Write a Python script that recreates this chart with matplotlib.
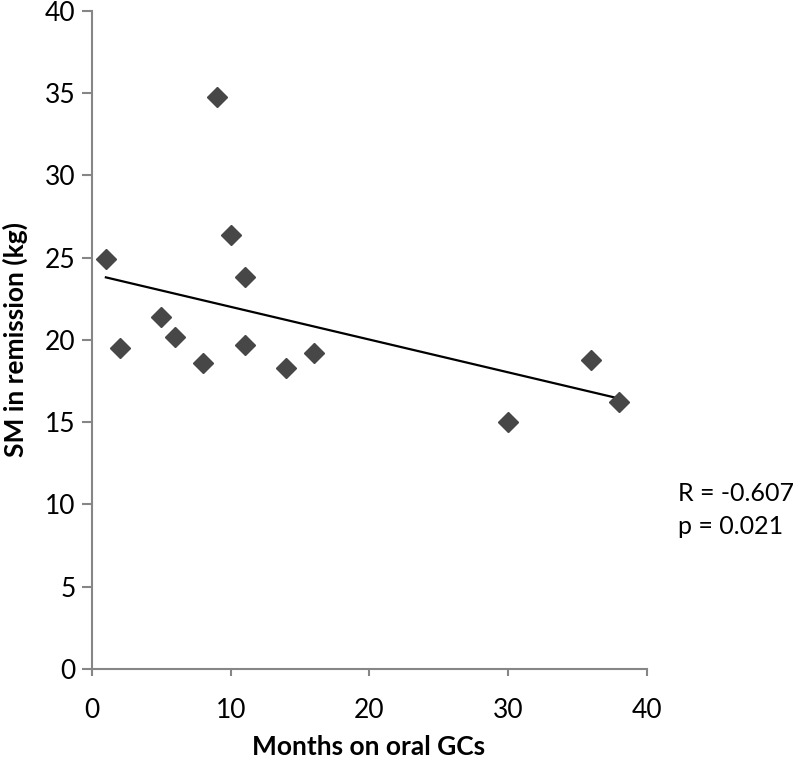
import numpy as np
import matplotlib
matplotlib.use("Agg")
import matplotlib.pyplot as plt

plt.rcParams['font.family'] = ['Lato', 'DejaVu Sans']

months = [1, 2, 5, 6, 8, 9, 10, 11, 11, 14, 16, 30, 36, 38]
sm_kg = [24.9, 19.5, 21.4, 20.2, 18.6, 34.75, 26.4, 23.85, 19.7, 18.3, 19.2, 15.0, 18.8, 16.25]
stats_text = "R = -0.607\np = 0.021"

fig = plt.figure(figsize=(8, 7.59), dpi=100)
ax = fig.add_axes([0.115, 0.1186, 0.6934, 0.867])

ax.plot(months, sm_kg, linestyle='none', marker='D', markersize=10.5,
        color='#474747', zorder=3)

slope, intercept = np.polyfit(months, sm_kg, 1)
xs = np.array([min(months), max(months)])
ax.plot(xs, slope * xs + intercept, color='black', linewidth=1.6, zorder=2)

ax.set_xlim(0, 40)
ax.set_ylim(0, 40)
ax.set_xticks([0, 10, 20, 30, 40])
ax.set_yticks(range(0, 41, 5))

for s in ['top', 'right']:
    ax.spines[s].set_visible(False)
for s in ['left', 'bottom']:
    ax.spines[s].set_color('#868686')
    ax.spines[s].set_linewidth(1.5)
ax.tick_params(axis='y', direction='out', length=7, width=1.5, color='#868686',
               labelsize=19, pad=5)
ax.tick_params(axis='x', direction='out', length=5, width=1.5, color='#868686',
               labelsize=19, pad=16)

ax.set_xlabel('Months on oral GCs', fontsize=19, fontweight='bold')
ax.xaxis.label.set_verticalalignment('baseline')
ax.xaxis.set_label_coords(0.4994, -0.1309)
ax.set_ylabel('SM in remission (kg)', fontsize=19, fontweight='bold', labelpad=12)

fig.text(0.848, 0.328, stats_text, fontsize=18, ha='left', va='center',
         linespacing=1.55)

fig.savefig('out.png', dpi=100)
